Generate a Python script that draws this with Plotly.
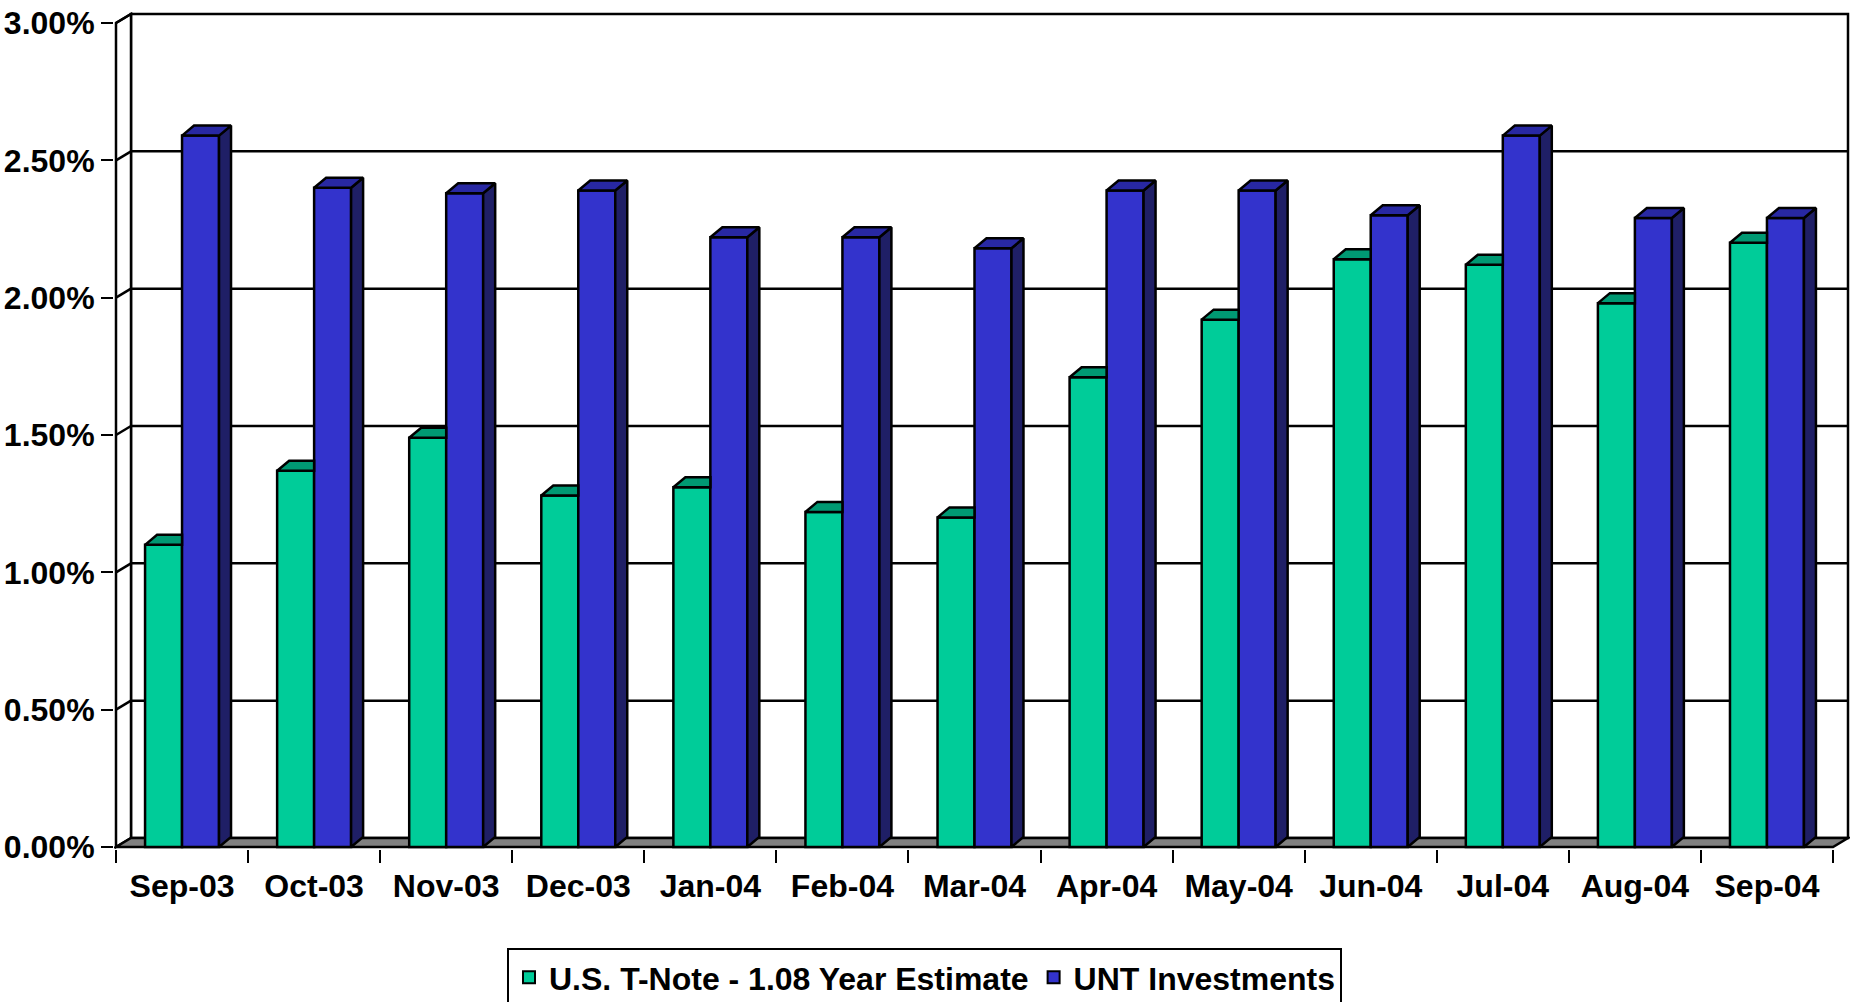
import plotly.graph_objects as go

# ---- data ----
months = ["Sep-03", "Oct-03", "Nov-03", "Dec-03", "Jan-04", "Feb-04", "Mar-04",
          "Apr-04", "May-04", "Jun-04", "Jul-04", "Aug-04", "Sep-04"]
tnote = [1.10, 1.37, 1.49, 1.28, 1.31, 1.22, 1.20, 1.71, 1.92, 2.14, 2.12, 1.98, 2.20]
unt = [2.59, 2.40, 2.38, 2.39, 2.22, 2.22, 2.18, 2.39, 2.39, 2.30, 2.59, 2.29, 2.29]
series_names = ["U.S. T-Note - 1.08 Year Estimate", "UNT Investments"]
y_ticks = [0.0, 0.5, 1.0, 1.5, 2.0, 2.5, 3.0]
y_tick_labels = [f"{v:.2f}%" for v in y_ticks]

# ---- geometry / style ----
W, H = 1856, 1002
FRONT_LEFT_PX = 116.0
CAT_PX = 132.05
Y0_PX = 846.7
UNIT_PX = 274.67          # px per 1 %
PAD = 2.0
WALL_DX_PX, WALL_DY_PX = 15.0, 9.0
BAR_DX_PX, BAR_DY_PX = 12.0, 10.0

n = len(months)
idx = list(range(n))
DXW = WALL_DX_PX / CAT_PX
DYW = WALL_DY_PX / UNIT_PX
BDX = BAR_DX_PX / CAT_PX
BDY = BAR_DY_PX / UNIT_PX
BW = 0.28
YMAX = y_ticks[-1]
XL, XR = -0.5, n - 0.5

x_range = [XL - PAD / CAT_PX, XR + DXW + PAD / CAT_PX]
y_range = [-PAD / UNIT_PX, YMAX + DYW + PAD / UNIT_PX]

plot_left = FRONT_LEFT_PX - PAD
plot_right = FRONT_LEFT_PX + n * CAT_PX + WALL_DX_PX + PAD
plot_top = Y0_PX - YMAX * UNIT_PX - WALL_DY_PX - PAD
plot_bottom = Y0_PX + PAD

FONT = "Liberation Sans, Arial, sans-serif"
GREEN, GREEN_TOP = "#00CC99", "#009973"
BLUE, BLUE_TOP, BLUE_SIDE = "#3333CC", "#2828A3", "#1F1F66"
LW = 2.5

fig = go.Figure()

# front faces
fig.add_trace(go.Bar(x=idx, y=tnote, width=BW, offset=-BW, name=series_names[0],
                     marker=dict(color=GREEN, line=dict(color="black", width=LW)),
                     hoverinfo="skip"))
fig.add_trace(go.Bar(x=idx, y=unt, width=BW, offset=0, name=series_names[1],
                     marker=dict(color=BLUE, line=dict(color="black", width=LW)),
                     hoverinfo="skip"))


def poly_trace(polys, color):
    xs, ys = [], []
    for p in polys:
        for (a, b) in p + [p[0]]:
            xs.append(a)
            ys.append(b)
        xs.append(None)
        ys.append(None)
    return go.Scatter(x=xs, y=ys, mode="lines", fill="toself", fillcolor=color,
                      line=dict(color="black", width=LW), showlegend=False,
                      hoverinfo="skip")


# green top faces (visible part left of the blue bar)
g_tops = []
for i, v in zip(idx, tnote):
    x0 = i - BW
    g_tops.append([(x0, v), (i, v), (i, v + BDY), (x0 + BDX, v + BDY)])
# blue top and side faces
b_tops, b_sides = [], []
for i, v in zip(idx, unt):
    x0, x1 = i, i + BW
    b_tops.append([(x0, v), (x1, v), (x1 + BDX, v + BDY), (x0 + BDX, v + BDY)])
    b_sides.append([(x1, 0), (x1, v), (x1 + BDX, v + BDY), (x1 + BDX, BDY)])

fig.add_trace(poly_trace(g_tops, GREEN_TOP))
fig.add_trace(poly_trace(b_sides, BLUE_SIDE))
fig.add_trace(poly_trace(b_tops, BLUE_TOP))

# dummy trace for label axis
fig.add_trace(go.Scatter(x=idx, y=[None] * n, xaxis="x2", mode="none",
                         showlegend=False, hoverinfo="skip"))

# walls / floor / gridlines as shapes below traces
shapes = []
line = dict(color="black", width=LW)
shapes.append(dict(type="rect", x0=XL + DXW, x1=XR + DXW, y0=DYW, y1=YMAX + DYW,
                   xref="x", yref="y", fillcolor="white", line=line, layer="below"))
shapes.append(dict(type="path",
                   path=f"M {XL},0 L {XL},{YMAX} L {XL + DXW},{YMAX + DYW} L {XL + DXW},{DYW} Z",
                   xref="x", yref="y", fillcolor="white", line=line, layer="below"))
shapes.append(dict(type="path",
                   path=f"M {XL},0 L {XR},0 L {XR + DXW},{DYW} L {XL + DXW},{DYW} Z",
                   xref="x", yref="y", fillcolor="#808080", line=line, layer="below"))
for v in y_ticks[1:-1]:
    shapes.append(dict(type="line", x0=XL + DXW, x1=XR + DXW, y0=v + DYW, y1=v + DYW,
                       xref="x", yref="y", line=line, layer="below"))
for v in y_ticks[1:]:
    shapes.append(dict(type="line", x0=XL, x1=XL + DXW, y0=v, y1=v + DYW,
                       xref="x", yref="y", line=line, layer="below"))

tickfont = dict(family=FONT, size=32, color="black", weight="bold")

fig.update_layout(
    width=W, height=H,
    paper_bgcolor="white", plot_bgcolor="white",
    barmode="overlay",
    shapes=shapes,
    margin=dict(l=plot_left, r=W - plot_right, t=plot_top, b=H - plot_bottom, pad=0,
                autoexpand=False),
    xaxis=dict(range=x_range, tickmode="array",
               tickvals=[XL + k for k in range(n + 1)],
               showticklabels=False, ticks="outside", ticklen=13, tickwidth=2,
               tickcolor="black", showgrid=False, zeroline=False, showline=False,
               automargin=False, fixedrange=True),
    xaxis2=dict(range=x_range, overlaying="x", anchor="y", side="bottom",
                tickmode="array", tickvals=idx, ticktext=months, ticks="",
                tickfont=tickfont, ticklabelstandoff=15, automargin=False,
                showgrid=False, zeroline=False, showline=False),
    yaxis=dict(range=y_range, tickmode="array", tickvals=y_ticks,
               ticktext=y_tick_labels, ticks="outside", ticklen=12,
               tickwidth=2, tickcolor="black", tickfont=tickfont,
               ticklabelstandoff=0, automargin=False,
               showgrid=False, zeroline=False, showline=False),
    legend=dict(orientation="h", xref="container", yref="container",
                x=924.5 / W, xanchor="center", y=1 - 948 / H, yanchor="top",
                bordercolor="black", borderwidth=2, bgcolor="white",
                font=dict(family=FONT, size=32, color="black", weight="bold"),
                itemsizing="constant", tracegroupgap=0),
    showlegend=True,
)

fig.write_html("out.html", config={"displayModeBar": False},
               post_script="document.body.style.margin='0px';document.body.style.overflow='hidden';")
